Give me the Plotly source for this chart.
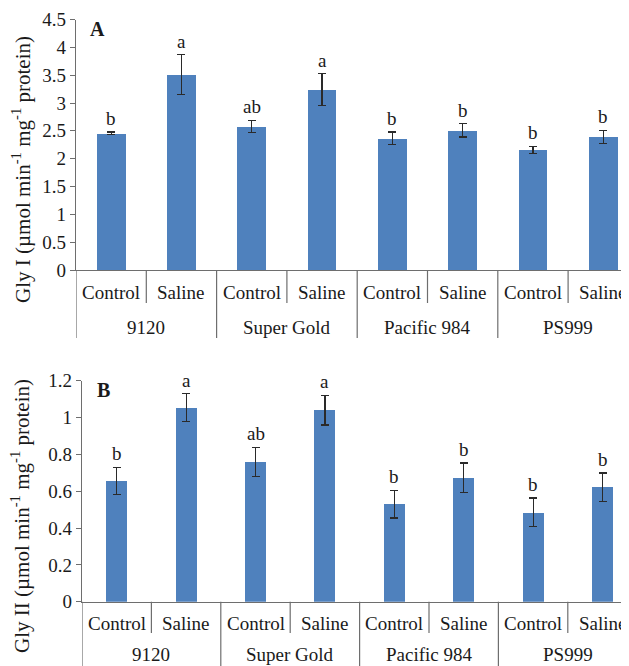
import plotly.graph_objects as go

# ---- data ----
cultivars = ["9120", "Super Gold", "Pacific 984", "PS999"]
treatments = ["Control", "Saline"]
categories = [f"{c}|{t}" for c in cultivars for t in treatments]

gly1_values = [2.46, 3.51, 2.58, 3.24, 2.37, 2.51, 2.16, 2.39]
gly1_errors = [0.02, 0.36, 0.11, 0.29, 0.11, 0.12, 0.065, 0.12]
gly1_letters = ["b", "a", "ab", "a", "b", "b", "b", "b"]

gly2_values = [0.655, 1.055, 0.76, 1.04, 0.53, 0.673, 0.486, 0.622]
gly2_errors = [0.075, 0.075, 0.078, 0.08, 0.075, 0.08, 0.077, 0.077]
gly2_letters = ["b", "a", "ab", "a", "b", "b", "b", "b"]

gly1_ticks = [0, 0.5, 1, 1.5, 2, 2.5, 3, 3.5, 4, 4.5]
gly2_ticks = [0, 0.2, 0.4, 0.6, 0.8, 1, 1.2]

# ---- style ----
VW, VH = 629, 666          # browser viewport
OFF = 8                    # default page margin around the figure div
W, H = VW - OFF, VH - OFF  # figure size
FONT = "Liberation Serif"
TXT = "#1a1a1a"
AXC = "#6e6e6e"
BAR = "#4F81BD"
FS = 19


def py(p):
    """viewport pixel y (from top) -> paper fraction"""
    return (H - (p - OFF)) / H


def px(p):
    """viewport pixel x (from left) -> paper fraction"""
    return (p - OFF) / W


fig = go.Figure()
xs = list(range(len(categories)))

panels = [
    dict(vals=gly1_values, errs=gly1_errors, letters=gly1_letters, ticks=gly1_ticks,
         yrange=[0, 4.5], xa="x", ya="y", bw=0.41, left=76, top=19.5, bottom=270,
         cat_y=292, grp_y=328, div_short=303, div_long=338, label="A", lab_pos=(97, 29),
         title="Gly I (µmol min<sup>-1</sup> mg<sup>-1</sup> protein)", title_y=170,
         pitch=70.3),
    dict(vals=gly2_values, errs=gly2_errors, letters=gly2_letters, ticks=gly2_ticks,
         yrange=[0, 1.2], xa="x2", ya="y2", bw=0.30, left=82, top=380.7, bottom=601.7,
         cat_y=623, grp_y=654, div_short=633, div_long=690, label="B", lab_pos=(103, 390),
         title="Gly II (µmol min<sup>-1</sup> mg<sup>-1</sup> protein)", title_y=516,
         pitch=69.4),
]

annotations = []
shapes = []
for i, p in enumerate(panels):
    fig.add_trace(go.Bar(
        x=xs, y=p["vals"], width=p["bw"], marker=dict(color=BAR, line=dict(width=0)),
        error_y=dict(type="data", array=p["errs"], visible=True, color="#2a2a2a",
                     thickness=1.2, width=4),
        xaxis=p["xa"], yaxis=p["ya"], showlegend=False, hoverinfo="skip"))
    sfx = "" if i == 0 else "2"
    xmax = (VW - p["left"]) / p["pitch"] - 0.5  # final category partly outside canvas
    fig.layout["xaxis" + sfx] = dict(
        domain=[px(p["left"]), 1], range=[-0.5, xmax], anchor="y" + sfx,
        showline=True, linecolor=AXC, linewidth=1.2, showticklabels=False,
        ticks="", showgrid=False, zeroline=False, fixedrange=True, automargin=False)
    fig.layout["yaxis" + sfx] = dict(
        domain=[py(p["bottom"]), py(p["top"])], range=p["yrange"], anchor="x" + sfx,
        showline=True, linecolor=AXC, linewidth=1.2, ticks="outside", ticklen=5,
        tickcolor=AXC, tickvals=p["ticks"], showgrid=False, zeroline=False,
        tickfont=dict(family=FONT, size=FS, color=TXT), fixedrange=True,
        automargin=False)

    # significance letters
    for xi, (v, e, l) in enumerate(zip(p["vals"], p["errs"], p["letters"])):
        annotations.append(dict(x=xi, y=v + e, xref=p["xa"], yref=p["ya"], text=l,
                                showarrow=False, yanchor="bottom", yshift=1,
                                font=dict(family=FONT, size=FS, color=TXT)))
    # category / group labels
    for xi, c in enumerate(categories):
        cult, trt = c.split("|")
        annotations.append(dict(x=xi, y=py(p["cat_y"]), xref=p["xa"], yref="paper",
                                text=trt, showarrow=False, yanchor="middle",
                                font=dict(family=FONT, size=FS, color=TXT)))
    for gi, cult in enumerate(cultivars):
        annotations.append(dict(x=gi * 2 + 0.5, y=py(p["grp_y"]), xref=p["xa"], yref="paper",
                                text=cult, showarrow=False, yanchor="middle",
                                font=dict(family=FONT, size=FS, color=TXT)))
    # dividers
    for k in range(len(categories) + 1):
        yb = p["div_long"] if k % 2 == 0 else p["div_short"]
        shapes.append(dict(type="line", xref=p["xa"], yref="paper",
                           x0=k - 0.5, x1=k - 0.5, y0=py(p["bottom"]), y1=py(yb),
                           line=dict(color=AXC, width=1.2)))
    # panel label
    annotations.append(dict(x=px(p["lab_pos"][0]), y=py(p["lab_pos"][1]), xref="paper",
                            yref="paper", text="<b>" + p["label"] + "</b>", showarrow=False,
                            xanchor="center", yanchor="middle",
                            font=dict(family=FONT, size=FS + 1, color=TXT)))
    # y title
    annotations.append(dict(x=px(21), y=py(p["title_y"]), xref="paper", yref="paper",
                            text=p["title"], textangle=-90, showarrow=False,
                            xanchor="center", yanchor="middle",
                            font=dict(family=FONT, size=21, color=TXT)))

fig.update_layout(
    template="none",
    width=W, height=H, margin=dict(l=0, r=0, t=0, b=0, pad=0),
    paper_bgcolor="white", plot_bgcolor="white",
    annotations=annotations, shapes=shapes, bargap=0,
)

fig.write_html("out.html", config={"displayModeBar": False})
